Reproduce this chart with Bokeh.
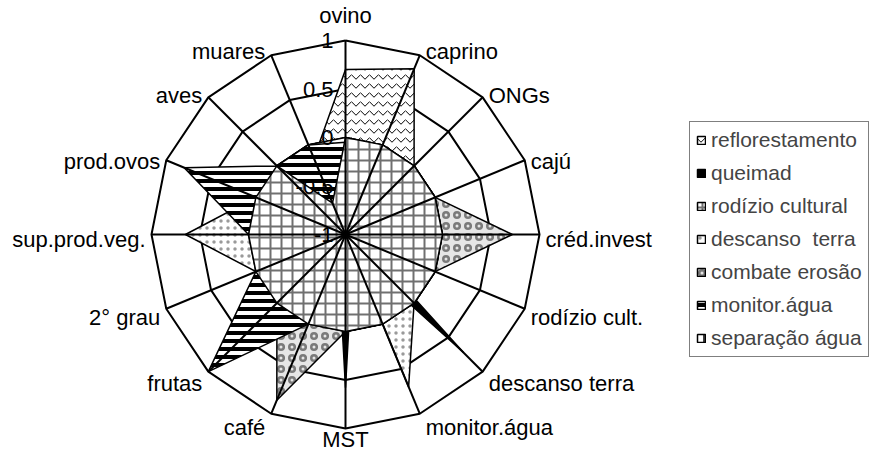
import numpy as np
from bokeh.plotting import figure
from bokeh.models import Range1d, Legend, LegendItem
from bokeh.core.properties import value
from bokeh.embed import file_html
from bokeh.resources import INLINE

# ---------------- data ----------------
categories = ["ovino", "caprino", "ONGs", "cajú", "créd.invest", "rodízio cult.",
              "descanso terra", "monitor.água", "MST", "café", "frutas", "2° grau",
              "sup.prod.veg.", "prod.ovos", "aves", "muares"]

reflorestamento = [0.7, 0.85, 0, 0, 0, 0, 0, 0, 0, 0, 0, 0, 0, 0, 0, -0.15]
queimad = [-0.8, -0.8, -0.8, -0.8, -0.8, -0.8, 0.72, -0.8, 0.58, -0.8, -0.8, -0.8, -0.8, -0.8, -0.8, -0.8]
rodizio_cultural = [0, 0, 0, 0, 0, 0, 0, 0, 0, 0, 0, 0, 0, 0, 0, -0.65]
descanso_terra = [0, 0, 0, 0, 0, 0, 0, 0.7, -1, 0, 0, 0, 0.65, 0, 0, 0]
combate_erosao = [0, 0, 0, 0, 0.72, 0, 0, 0, 0, 0.85, 0, 0, 0, 0, 0, 0]
monitor_agua = [-0.05, -1, 0, 0, 0, 0, 0, 0, 0, 0, 1.0, 0, 0, 0.8, 0, 0]
separacao_agua = [-1] * 16

tick_values = [1, 0.5, 0, -0.5, -1]
tick_labels = ["1", "0.5", "0", "-0.5", "-1"]
v_min, v_max = -1, 1

# ---------------- layout ----------------
W, H = 870, 452
CX, CY = 345, 234          # centre of the radar, in canvas pixels
RADIUS = 194.0             # px for full scale
n = len(categories)
theta = np.radians(90 - np.arange(n) * 360.0 / n)


def polar(vals):
    r = (np.asarray(vals, float) - v_min) / (v_max - v_min) * RADIUS
    return list(r * np.cos(theta)), list(r * np.sin(theta))


p = figure(width=W, height=H, output_backend="svg", toolbar_location=None,
           x_range=Range1d(-CX, W - CX), y_range=Range1d(CY - H, CY),
           x_axis_location=None, y_axis_location=None, min_border=0)
p.grid.visible = False
p.outline_line_color = None
p.background_fill_color = "white"

# rings (gridlines)
ring_xs, ring_ys = [], []
for t in tick_values:
    if t == v_min:
        continue
    xs, ys = polar([t] * n)
    ring_xs.append(xs + [xs[0]])
    ring_ys.append(ys + [ys[0]])
p.multi_line(ring_xs, ring_ys, line_color="black", line_width=2)

LW = 1.5
xs, ys = polar(reflorestamento)
r_ref = p.patch(xs, ys, fill_color="white", hatch_pattern="horizontal_wave", hatch_color="black",
                hatch_scale=9, hatch_weight=1, line_color="black", line_width=LW)
xs, ys = polar(combate_erosao)
r_com = p.patch(xs, ys, fill_color="#e6e6e6", hatch_pattern="ring", hatch_color="#7a7a7a",
                hatch_scale=11, hatch_weight=2.5, line_color="black", line_width=LW)
xs, ys = polar(descanso_terra)
r_des = p.patch(xs, ys, fill_color="white", hatch_pattern="dot", hatch_color="#9a9a9a",
                hatch_scale=7, hatch_weight=2, line_color="black", line_width=LW)
xs, ys = polar(monitor_agua)
r_mon = p.patch(xs, ys, fill_color="white", hatch_pattern="horizontal_line", hatch_color="black",
                hatch_scale=8, hatch_weight=4, line_color="black", line_width=LW)
xs, ys = polar(queimad)
r_que = p.patch(xs, ys, fill_color="black", line_color="black", line_width=LW)
xs, ys = polar(rodizio_cultural)
r_rod = p.patch(xs, ys, fill_color="white", hatch_pattern="cross", hatch_color="#707070",
                hatch_scale=11, hatch_weight=2, line_color="black", line_width=LW)
xs, ys = polar(separacao_agua)
r_sep = p.patch(xs, ys, fill_color="white", hatch_pattern="vertical_line", hatch_color="black",
                hatch_scale=14, hatch_weight=1.5, line_color="black", line_width=LW)

# spokes
ox, oy = polar([v_max] * n)
p.multi_line([[0, x] for x in ox], [[0, y] for y in oy], line_color="black", line_width=2)

# value (radial axis) labels
tr = (np.asarray(tick_values, float) - v_min) / (v_max - v_min) * RADIUS
p.text(x=[-12] * len(tick_values), y=list(tr), text=tick_labels, text_align="right",
       text_baseline="middle", text_font=value("Liberation Sans"), text_font_size="22px",
       text_color="black")

# category labels
c, s = np.cos(theta), np.sin(theta)
lx, ly, al = [], [], []
for i in range(n):
    vx, vy = ox[i], oy[i]
    if abs(c[i]) < 0.2:
        lx.append(vx)
        al.append("center")
        if s[i] > 0:
            ly.append(vy + 25)
        else:
            ly.append(max(vy - 27, CY - H + 13))
    else:
        lx.append(vx + 6 * np.sign(c[i]))
        al.append("left" if c[i] > 0 else "right")
        ly.append(vy - (5 - 9 * s[i]))
p.text(x=lx, y=ly, text=categories, text_align=al, text_baseline="middle",
       text_font=value("Liberation Sans"), text_font_size="22px", text_color="black")

legend = Legend(items=[
    LegendItem(label="reflorestamento", renderers=[r_ref]),
    LegendItem(label="queimad", renderers=[r_que]),
    LegendItem(label="rodízio cultural", renderers=[r_rod]),
    LegendItem(label="descanso  terra", renderers=[r_des]),
    LegendItem(label="combate erosão", renderers=[r_com]),
    LegendItem(label="monitor.água", renderers=[r_mon]),
    LegendItem(label="separação água", renderers=[r_sep]),
], location=(689, 95), border_line_color="black", border_line_width=1.5,
    label_text_font="Liberation Sans", label_text_font_size="21px",
    glyph_width=10, glyph_height=10, padding=6, spacing=9, label_standoff=5,
    margin=0, background_fill_alpha=1)
p.add_layout(legend)

open("out.html", "w").write(file_html(p, INLINE))
